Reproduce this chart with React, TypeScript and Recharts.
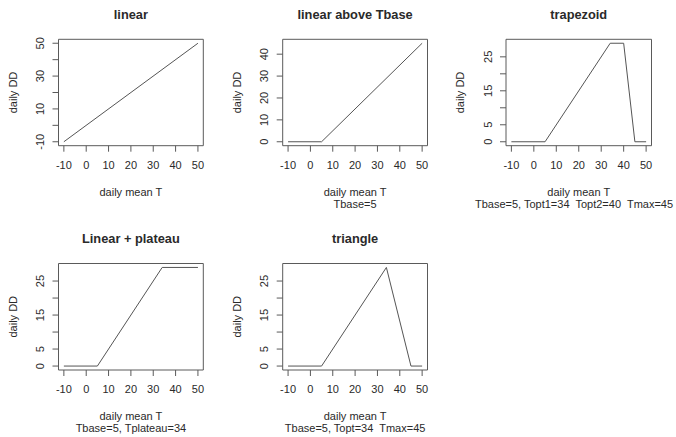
import { LineChart, Line, XAxis, YAxis, ReferenceArea } from 'recharts';

// degree-day model curves, one small set of arrays per panel
const xTicks = [-10, 0, 10, 20, 30, 40, 50];

const linearT = [-10, 50];
const linearDD = [-10, 50];
const linearYTicks = [-10, 0, 10, 20, 30, 40, 50];
const linearYLabels = [-10, 10, 30, 50];

const aboveT = [-10, 5, 50];
const aboveDD = [0, 0, 45];
const aboveYTicks = [0, 10, 20, 30, 40];
const aboveYLabels = [0, 10, 20, 30, 40];

const trapT = [-10, 5, 34, 40, 45, 50];
const trapDD = [0, 0, 29, 29, 0, 0];

const plateauT = [-10, 5, 34, 50];
const plateauDD = [0, 0, 29, 29];

const triT = [-10, 5, 34, 45, 50];
const triDD = [0, 0, 29, 0, 0];

const smallYTicks = [0, 5, 10, 15, 20, 25];
const smallYLabels = [0, 5, 15, 25];

const titles = ['linear', 'linear above Tbase', 'trapezoid', 'Linear + plateau', 'triangle'];
const subtitles = [
  '',
  'Tbase=5',
  'Tbase=5, Topt1=34  Topt2=40  Tmax=45',
  'Tbase=5, Tplateau=34',
  'Tbase=5, Topt=34  Tmax=45',
];

const PAGE_W = 676;
const PAGE_H = 437;
const Y_W = 20;
const X_H = 20;
const INK = '#5a5a5a';
const TEXT = '#2a2a2a';
const FONT = '"Liberation Sans", Arial, sans-serif';
const FS = 11;

// plot box edges, page coordinates
const colL = [58.5, 282.7, 506];
const colR = [203.3, 427.5, 651.5];
const rowT = [39.3, 263.5];
const rowB = [145.7, 370];

const X_DOMAIN = [-12.4, 52.4];

const panels = [
  { t: linearT, dd: linearDD, yDomain: [-12.4, 52.4], yTicks: linearYTicks, yLabels: linearYLabels, col: 0, row: 0 },
  { t: aboveT, dd: aboveDD, yDomain: [-1.8, 46.8], yTicks: aboveYTicks, yLabels: aboveYLabels, col: 1, row: 0 },
  { t: trapT, dd: trapDD, yDomain: [-1.16, 30.16], yTicks: smallYTicks, yLabels: smallYLabels, col: 2, row: 0 },
  { t: plateauT, dd: plateauDD, yDomain: [-1.16, 30.16], yTicks: smallYTicks, yLabels: smallYLabels, col: 0, row: 1 },
  { t: triT, dd: triDD, yDomain: [-1.16, 30.16], yTicks: smallYTicks, yLabels: smallYLabels, col: 1, row: 1 },
];

function Panel({ p }: { p: any }) {
  const L = colL[p.col];
  const R = colR[p.col];
  const T = rowT[p.row];
  const B = rowB[p.row];
  const margin = { top: T, left: L - Y_W, right: PAGE_W - R, bottom: PAGE_H - B - X_H };
  const data = p.t.map((t: number, i: number) => ({ t, dd: p.dd[i] }));

  return (
    <div style={{ position: 'absolute', left: 0, top: 0 }}>
      <LineChart width={PAGE_W} height={PAGE_H} data={data} margin={margin}>
        <XAxis
          type="number"
          dataKey="t"
          domain={X_DOMAIN}
          ticks={xTicks}
          interval={0}
          allowDataOverflow
          height={X_H}
          axisLine={false}
          tickSize={6}
          tickMargin={0}
          tickLine={{ stroke: INK }}
          tick={(props: any) => (
            <text x={props.x} y={props.y + 17} textAnchor="middle" fontSize={FS} fontFamily={FONT} fill={TEXT}>
              {props.payload.value}
            </text>
          )}
        />
        <YAxis
          type="number"
          domain={p.yDomain}
          ticks={p.yTicks}
          interval={0}
          allowDataOverflow
          width={Y_W}
          axisLine={false}
          tickSize={6}
          tickMargin={0}
          tickLine={{ stroke: INK }}
          tick={(props: any) => {
            const v = props.payload.value;
            if (!p.yLabels.includes(v)) return <g />;
            const bx = props.x - 8.3;
            return (
              <text
                x={bx}
                y={props.y}
                transform={`rotate(-90, ${bx}, ${props.y})`}
                textAnchor="middle"
                fontSize={FS}
                fontFamily={FONT}
                fill={TEXT}
              >
                {v}
              </text>
            );
          }}
        />
        <ReferenceArea
          x1={X_DOMAIN[0]}
          x2={X_DOMAIN[1]}
          y1={p.yDomain[0]}
          y2={p.yDomain[1]}
          fill="none"
          fillOpacity={0}
          stroke={INK}
          strokeWidth={1}
        />
        <Line type="linear" dataKey="dd" stroke="#555" strokeWidth={1} dot={false} isAnimationActive={false} />
      </LineChart>
    </div>
  );
}

function Labels() {
  return (
    <svg
      width={PAGE_W}
      height={PAGE_H}
      style={{ position: 'absolute', left: 0, top: 0, pointerEvents: 'none' }}
      fontFamily={FONT}
      fill={TEXT}
    >
      {panels.map((p, i) => {
        const L = colL[p.col];
        const R = colR[p.col];
        const T = rowT[p.row];
        const B = rowB[p.row];
        const cx = (L + R) / 2;
        const cy = (T + B) / 2;
        const lx = L - 41.8;
        // keep the long trapezoid note inside the page
        const sx = Math.min(cx, PAGE_W - 102);
        return (
          <g key={i}>
            <text x={cx} y={T - 20.6} textAnchor="middle" fontSize={12.8} fontWeight="bold">
              {titles[i]}
            </text>
            <text x={cx} y={B + 50} textAnchor="middle" fontSize={FS}>
              daily mean T
            </text>
            {subtitles[i] && (
              <text x={sx} y={B + 62.3} textAnchor="middle" fontSize={FS} style={{ whiteSpace: 'pre' }}>
                {subtitles[i]}
              </text>
            )}
            <text x={lx} y={cy} transform={`rotate(-90, ${lx}, ${cy})`} textAnchor="middle" fontSize={FS}>
              daily DD
            </text>
          </g>
        );
      })}
    </svg>
  );
}

export default function App() {
  return (
    <div style={{ position: 'absolute', left: 0, top: 0, width: PAGE_W, height: PAGE_H, background: '#fff' }}>
      {panels.map((p, i) => (
        <Panel key={i} p={p} />
      ))}
      <Labels />
    </div>
  );
}
